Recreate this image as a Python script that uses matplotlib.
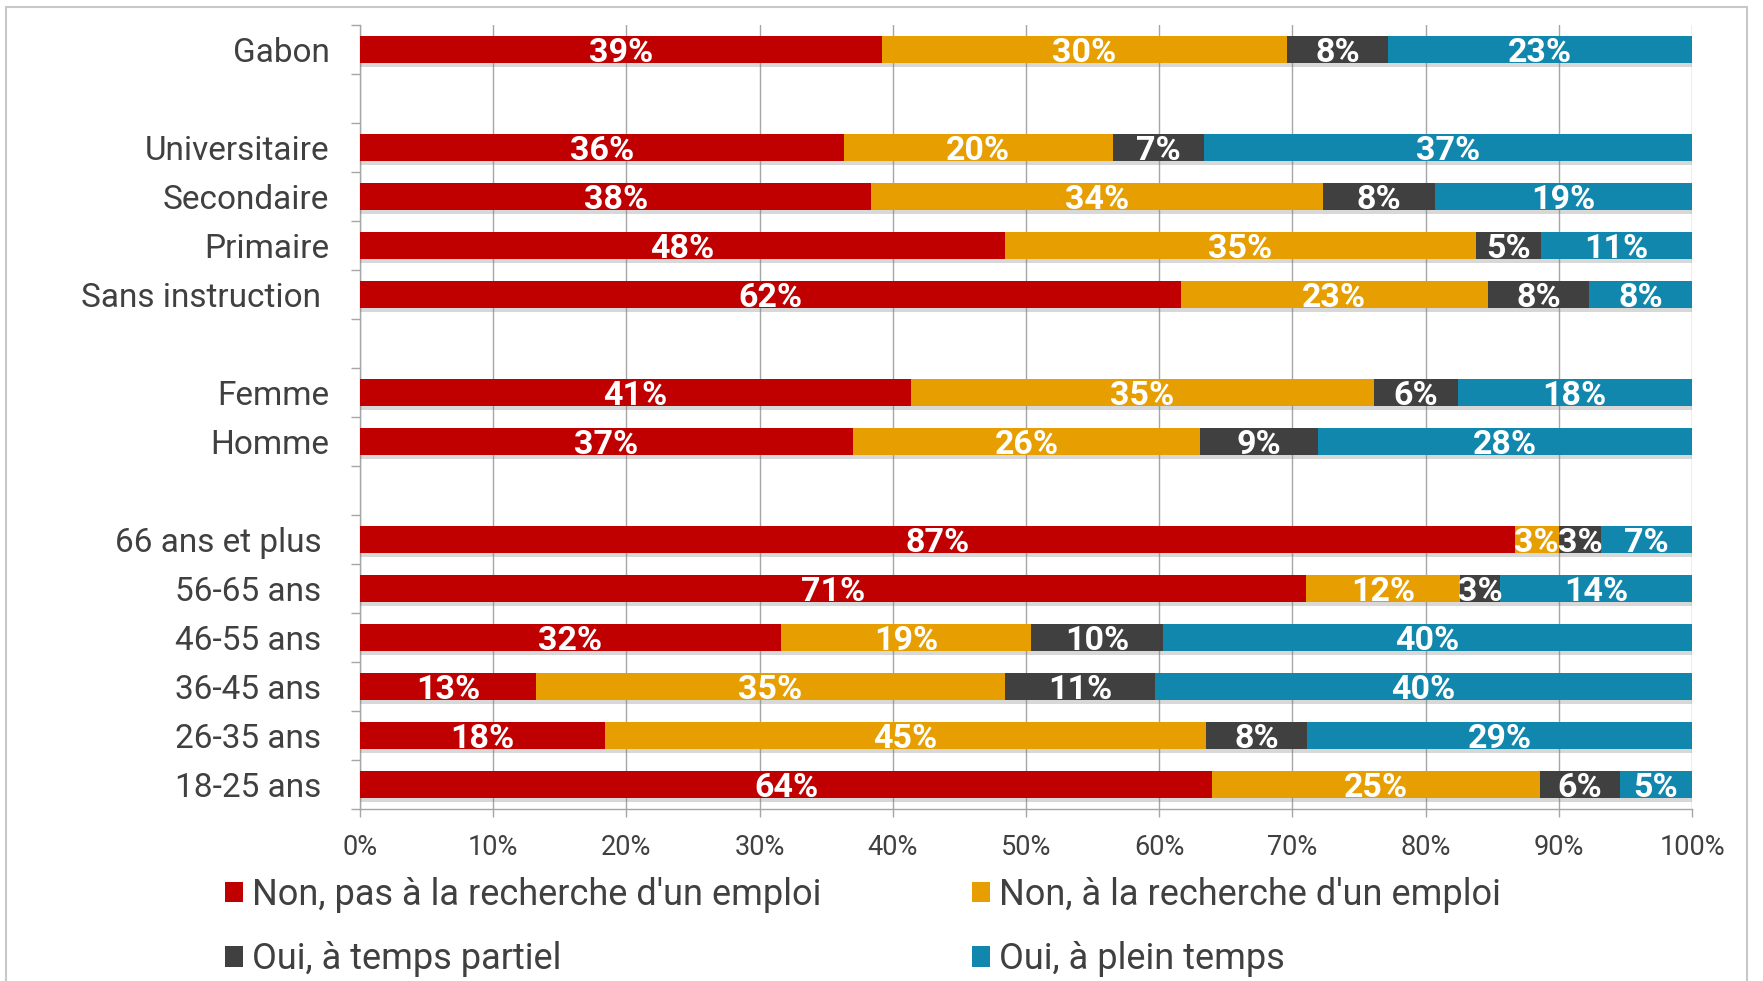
import matplotlib
matplotlib.use("Agg")
import matplotlib.pyplot as plt
from matplotlib.patches import Patch, Rectangle
from matplotlib import patheffects as pe
import numpy as np

# ---------------- data ----------------
categories = ["Gabon",
              "Universitaire", "Secondaire", "Primaire", "Sans instruction ",
              "Femme", "Homme",
              "66 ans et plus ", "56-65 ans ", "46-55 ans ", "36-45 ans ", "26-35 ans ", "18-25 ans "]
group_sizes = [1, 4, 2, 6]

series_names = ["Non, pas à la recherche d'un emploi",
                "Non, à la recherche d'un emploi",
                "Oui, à temps partiel",
                "Oui, à plein temps"]

non_pas_recherche = [39.2, 36.3, 38.4, 48.4, 61.6, 41.4, 37.0, 86.7, 71.0, 31.6, 13.2, 18.4, 64.0]
non_recherche     = [30.4, 20.2, 33.9, 35.4, 23.1, 34.7, 26.1, 3.3, 11.6, 18.8, 35.2, 45.1, 24.6]
oui_partiel       = [7.6, 6.9, 8.4, 4.9, 7.6, 6.3, 8.8, 3.2, 3.0, 9.9, 11.3, 7.6, 6.0]
oui_plein         = [22.8, 36.6, 19.3, 11.3, 7.7, 17.6, 28.1, 6.8, 14.4, 39.7, 40.3, 28.9, 5.4]

x_ticks = [0, 10, 20, 30, 40, 50, 60, 70, 80, 90, 100]
x_tick_labels = ["0%", "10%", "20%", "30%", "40%", "50%", "60%", "70%", "80%", "90%", "100%"]

# ---------------- style ----------------
colors = ["#C00000", "#E69E00", "#404040", "#1287AD"]
grid_col = "#A6A6A6"
text_col = "#404040"

plt.rcParams['font.family'] = ['Roboto', 'DejaVu Sans']

W, H = 1763, 981
fig = plt.figure(figsize=(W / 100, H / 100), dpi=100)
ax = fig.add_axes([360 / W, 0.1755, (1692 - 360) / W, 0.9745 - 0.1755])

# slot positions: one blank slot between groups
pos = []
slot = 0
for n in group_sizes:
    for _ in range(n):
        pos.append(slot)
        slot += 1
    slot += 1
n_slots = slot - 1
pos = np.array(pos, dtype=float)

series = [non_pas_recherche, non_recherche, oui_partiel, oui_plein]
shadow = [pe.SimplePatchShadow(offset=(0, -3), shadow_rgbFace="#7F7F7F", alpha=0.3), pe.Normal()]

left = np.zeros(len(categories))
for vals, col in zip(series, colors):
    vals = np.array(vals, dtype=float)
    bars = ax.barh(pos, vals, left=left, height=0.54, color=col, edgecolor="none", zorder=3)
    for b in bars:
        b.set_path_effects(shadow)
    for p, v, l in zip(pos, vals, left):
        ax.text(l + v / 2, p + 0.08, f"{v:.0f}%", ha="center", va="center", color="white",
                fontsize=24.5, fontweight="bold", zorder=5)
    left += vals

ax.set_xlim(0, 100)
ax.set_ylim(n_slots - 0.5, -0.5)

ax.set_yticks(pos)
ax.set_yticklabels(categories)
ax.set_yticks(np.arange(-0.5, n_slots, 1.0), minor=True)
ax.tick_params(axis="y", which="major", length=0, pad=22, labelsize=24, labelcolor=text_col)
ax.tick_params(axis="y", which="minor", length=6.5, color=grid_col, width=1)

ax.set_xticks(x_ticks)
ax.set_xticklabels(x_tick_labels)
ax.tick_params(axis="x", length=6, color=grid_col, width=1, pad=12, labelsize=19.5, labelcolor=text_col)

ax.grid(axis="x", color=grid_col, lw=1)
ax.set_axisbelow(True)
for s in ["top", "right"]:
    ax.spines[s].set_visible(False)
for s in ["left", "bottom"]:
    ax.spines[s].set_color(grid_col)
    ax.spines[s].set_linewidth(1)

# legend (row-wise order)
order = [0, 2, 1, 3]
handles = [Patch(facecolor=colors[i], edgecolor="none") for i in order]
labels = [series_names[i] for i in order]
fig.legend(handles, labels, loc="upper left", bbox_to_anchor=(225 / W, 1 - 877 / H), ncol=2,
           frameon=False, fontsize=26, handlelength=0.5, handleheight=0.5, handletextpad=0.25,
           columnspacing=4.17, labelspacing=0.78, borderpad=0, borderaxespad=0, labelcolor=text_col)

# outer frame
fig.add_artist(Rectangle((6 / W, -0.05), (1747 - 6) / W, 1.05 - 7 / H, transform=fig.transFigure,
                         fill=False, edgecolor="#C8C8C8", lw=1.5))

fig.savefig("out.png", dpi=100)
